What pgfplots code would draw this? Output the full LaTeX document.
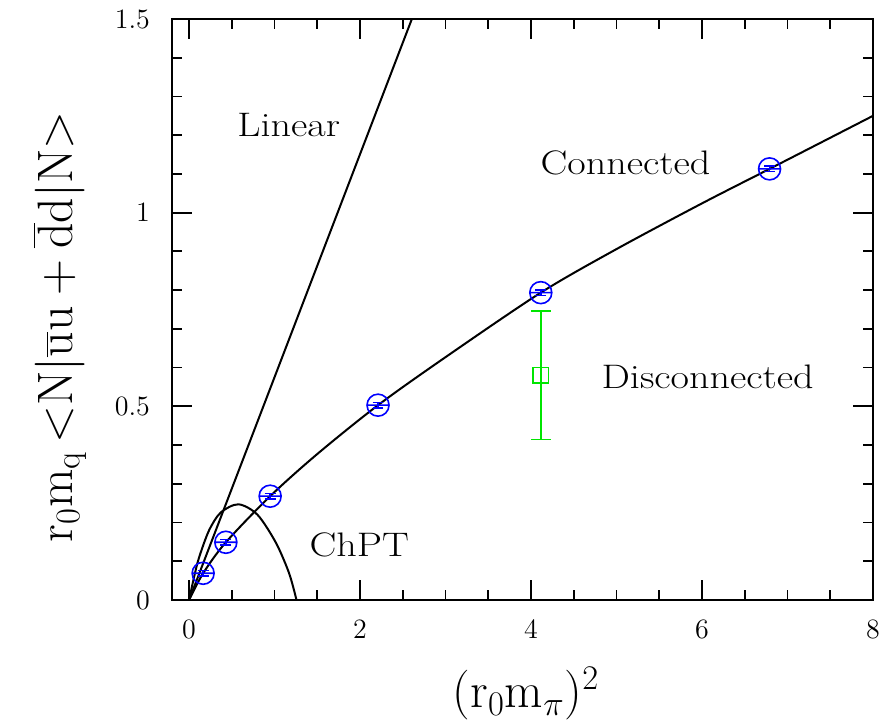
\documentclass[border=0pt]{standalone}
\usepackage{pgfplots}
\pgfplotsset{compat=1.18}

% circle with a horizontal bar through its centre
\pgfdeclareplotmark{ominus}{%
  \pgfpathcircle{\pgfpointorigin}{\pgfplotmarksize}%
  \pgfpathmoveto{\pgfpoint{-\pgfplotmarksize}{0pt}}%
  \pgfpathlineto{\pgfpoint{\pgfplotmarksize}{0pt}}%
  \pgfusepathqstroke}

\definecolor{ptblue}{rgb}{0,0,1}
\definecolor{ptgreen}{rgb}{0,0.9,0}

\newcommand{\lbl}[1]{\scalebox{1.18}[1]{\fontsize{17}{17}\selectfont #1}}
\newcommand{\tickfont}{\fontsize{14}{14}\selectfont}

\begin{document}
\begin{tikzpicture}
\begin{axis}[
  scale only axis,
  width=350.5pt, height=290.5pt,
  xmin=-0.2, xmax=8, ymin=0, ymax=1.5,
  xtick={0,2,4,6,8}, ytick={0,0.5,1,1.5},
  minor x tick num=3, minor y tick num=4,
  tick align=inside,
  major tick length=10pt, minor tick length=5pt,
  axis line style={line width=1.3pt},
  every tick/.style={black, line width=0.9pt},
  /pgf/number format/assume math mode=true,
  xticklabel style={font=\tickfont, anchor=center, yshift=-14.5pt},
  yticklabel style={font=\tickfont, xshift=-7.5pt},
  xlabel={$(\mathrm{r_0m_\pi})^2$},
  ylabel={$\mathrm{r_0m_q}\,{<}\mathrm{N}|\overline{\mathrm{u}}\mathrm{u}+\overline{\mathrm{d}}\mathrm{d}|\mathrm{N}{>}$},
  xlabel style={font=\fontsize{24}{24}\selectfont, at={(axis description cs:0.505,-0.1515)}, anchor=center, yshift=-3pt},
  ylabel style={font=\fontsize{24}{24}\selectfont, at={(axis description cs:-0.16,0.47)}, anchor=center},
]
\coordinate (sw) at (rel axis cs:0,0);
\coordinate (ne) at (rel axis cs:1,1);

% linear fit through the origin
\addplot[black, line width=1pt] coordinates {(0,0) (2.606,1.5)};

% chiral perturbation theory curve
\addplot[black, line width=1pt, smooth] coordinates {
  (0,0) (0.059,0.060) (0.117,0.110) (0.234,0.180) (0.371,0.226)
  (0.578,0.247) (0.80,0.220) (1.015,0.148) (1.17,0.069) (1.256,0)};
\addplot[black, line width=1pt] coordinates {(0,0) (0,0.05)};

% fit to the connected contribution
\addplot[black, line width=1pt, smooth] coordinates {
  (0,0) (0.164,0.069) (0.43,0.149) (0.948,0.268) (1.5,0.377)
  (2.21,0.503) (3.0,0.627) (4.114,0.7935) (5.0,0.906) (6.0,1.024)
  (6.79,1.113) (7.4,1.182) (8.0,1.25)};

% connected data
\addplot[ptblue, only marks, mark=ominus, mark size=5.5pt,
  mark options={line width=0.8pt},
  error bars/.cd, y dir=both, y explicit,
  error bar style={ptblue, line width=0.8pt},
  error mark options={rotate=90, ptblue, mark size=2.7pt, line width=0.8pt}]
  coordinates {
  (0.164,0.069) +- (0,0.007)
  (0.43,0.149) +- (0,0.007)
  (0.948,0.268) +- (0,0.007)
  (2.21,0.503) +- (0,0.007)
  (4.114,0.7935) +- (0,0.007)
  (6.79,1.113) +- (0,0.007)};

% disconnected data
\addplot[ptgreen, only marks, mark=square, mark size=3.9pt,
  mark options={line width=0.8pt},
  error bars/.cd, y dir=both, y explicit,
  error bar style={ptgreen, line width=0.8pt},
  error mark options={rotate=90, ptgreen, mark size=5pt, line width=0.8pt}]
  coordinates {(4.114,0.580) +- (0,0.166)};

\node at (axis cs:1.165,1.226) {\lbl{Linear}};
\node at (axis cs:5.105,1.128) {\lbl{Connected}};
\node at (axis cs:6.066,0.576) {\lbl{Disconnected}};
\node at (axis cs:1.99,0.142) {\lbl{ChPT}};
\end{axis}
\pgfresetboundingbox
\path ([shift={(-86pt,-60pt)}]sw) rectangle ([shift={(9pt,9.5pt)}]ne);
\end{tikzpicture}
\end{document}
